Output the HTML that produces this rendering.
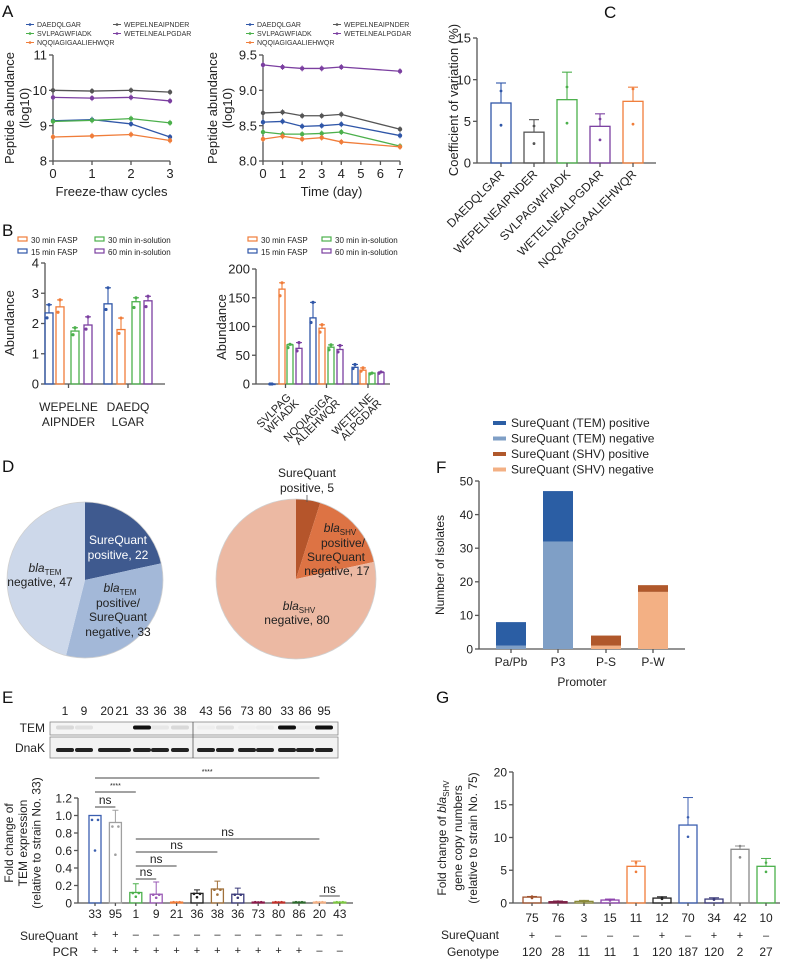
<!DOCTYPE html>
<html><head><meta charset="utf-8"><style>
html,body{margin:0;padding:0;background:#fff;}
svg{display:block;font-family:"Liberation Sans",Arial,sans-serif;}
</style></head><body>
<svg id="fig" width="787" height="962" viewBox="0 0 787 962" xmlns="http://www.w3.org/2000/svg">
<g font-size="17" fill="#111">
<text x="2" y="17">A</text>
<text x="2" y="236">B</text>
<text x="604" y="18">C</text>
<text x="2" y="472">D</text>
<text x="436" y="473">F</text>
<text x="2" y="703">E</text>
<text x="436" y="703">G</text>
</g>
</svg>
<script>
// ===== DATA =====
const aPeptides = ["DAEDQLGAR","SVLPAGWFIADK","NQQIAGIGAALIEHWQR","WEPELNEAIPNDER","WETELNEALPGDAR"];
const aColors = ["#2f56a8","#4cb04c","#f07d3a","#555555","#7b3fa0"];
const aLeftX = [0,1,2,3];
const aLeftDAEDQLGAR = [9.14,9.17,9.05,8.68];
const aLeftSVLPAG = [9.12,9.15,9.20,9.08];
const aLeftNQQIAG = [8.68,8.71,8.75,8.58];
const aLeftWEPELNE = [10.0,9.98,10.0,9.95];
const aLeftWETELNE = [9.80,9.78,9.80,9.70];
const aRightX = [0,1,2,3,4,7];
const aRightDAEDQLGAR = [8.55,8.56,8.49,8.50,8.52,8.36];
const aRightSVLPAG = [8.41,8.38,8.38,8.39,8.41,8.21];
const aRightNQQIAG = [8.31,8.35,8.31,8.33,8.27,8.20];
const aRightWEPELNE = [8.68,8.69,8.64,8.64,8.66,8.45];
const aRightWETELNE = [9.36,9.33,9.31,9.31,9.33,9.27];

const bMethods = ["30 min FASP","15 min FASP","30 min in-solution","60 min in-solution"];
const bColors = ["#2f56a8","#f07d3a","#4cb04c","#7b3fa0"];
const bLeftCats = [["WEPELNE","AIPNDER"],["DAEDQ","LGAR"]];
const bLeftVals = [[2.35,2.55,1.75,1.95],[2.65,1.80,2.72,2.75]];
const bLeftErr = [[2.62,2.78,1.86,2.22],[3.18,2.18,2.85,2.90]];
const bRightCats = [["SVLPAG","WFIADK"],["NQQIAGIGA","ALIEHWQR"],["WETELNE","ALPGDAR"]];
const bRightVals = [[0,165,68,62],[115,97,64,60],[29,24,19,20]];
const bRightErr = [[0,176,69,72],[142,103,68,67],[34,28,19,21]];

const cCats = ["DAEDQLGAR","WEPELNEAIPNDER","SVLPAGWFIADK","WETELNEALPGDAR","NQQIAGIGAALIEHWQR"];
const cVals = [7.2,3.7,7.6,4.4,7.4];
const cErr = [9.6,5.2,10.9,5.9,9.1];
const cColors = ["#2f56a8","#555555","#4cb04c","#7b3fa0","#f07d3a"];

const dTemVals = [22,33,47];
const dTemColors = ["#3f5a8f","#a3b8d8","#cdd8ea"];
const dShvVals = [5,17,80];
const dShvColors = ["#b5552b","#dd7344","#ecb9a3"];

const fCats = ["Pa/Pb","P3","P-S","P-W"];
const fNeg = [1,32,1,17];
const fPos = [7,15,3,2];
const fNegColors = ["#7f9fc6","#7f9fc6","#f3b084","#f3b084"];
const fPosColors = ["#2b5ea4","#2b5ea4","#b0582b","#b0582b"];
const fLegend = ["SureQuant (TEM) positive","SureQuant (TEM) negative","SureQuant (SHV) positive","SureQuant (SHV) negative"];
const fLegendColors = ["#2b5ea4","#7f9fc6","#b0582b","#f3b084"];

const eLanes = ["1","9","20","21","33","36","38","43","56","73","80","33","86","95"];
const eTemBand = [0.12,0.08,0,0,1,0.06,0.12,0.03,0.08,0.02,0.04,1,0.03,1];
const eCats = ["33","95","1","9","21","36","38","36","73","80","86","20","43"];
const eVals = [1.0,0.92,0.12,0.10,0.01,0.11,0.16,0.10,0.01,0.01,0.01,0.01,0.01];
const eErr = [1.0,1.06,0.22,0.24,0.01,0.15,0.25,0.17,0.01,0.01,0.01,0.01,0.01];
const eSure = ["+","+","–","–","–","–","–","–","–","–","–","–","–"];
const ePcr = ["+","+","+","+","+","+","+","+","+","+","+","–","–"];
const eColors = ["#3b5fb0","#a0a0a0","#4cb04c","#9a5ab5","#f07d3a","#222222","#a0703a","#3b3b7a","#8b1a4a","#c0302a","#2d6a2d","#f3b084","#7dc742"];

const gCats = ["75","76","3","15","11","12","70","34","42","10"];
const gVals = [0.9,0.2,0.25,0.45,5.6,0.75,11.9,0.6,8.2,5.6];
const gErr = [1.0,0.3,0.4,0.6,6.4,0.95,16.1,0.8,8.7,6.8];
const gSure = ["+","–","–","–","–","+","–","+","+","–"];
const gGeno = ["120","28","11","11","1","120","187","120","2","27"];
const gColors = ["#a0522d","#7b2046","#8a8a3a","#8e44ad","#f07d3a","#222222","#3c5fb0","#3b3b7a","#888888","#4cb04c"];

// ===== HELPERS =====
const NS="http://www.w3.org/2000/svg";
const svg=document.getElementById('fig');
function mk(tag,attrs,parent,txt){const e=document.createElementNS(NS,tag);for(const k in attrs)e.setAttribute(k,attrs[k]);if(txt!==undefined)e.textContent=txt;(parent||svg).appendChild(e);return e;}
function grp(name){const g=mk('g',{});


return g;}
function lin(d0,d1,r0,r1){return v=>r0+(v-d0)*(r1-r0)/(d1-d0);}
function line(p,x1,y1,x2,y2,c,w){return mk('line',{x1,y1,x2,y2,stroke:c||'#555',"stroke-width":w||1.3},p);}
function txt(p,x,y,s,opt){opt=opt||{};const t=mk('text',{x,y,"font-size":opt.fs||12,"text-anchor":opt.a||'middle',fill:opt.fill||'#222'},p,s);if(opt.rot!==undefined)t.setAttribute('transform',`rotate(${opt.rot} ${x} ${y})`);return t;}
function yaxis(p,x,y0,y1,ticks,sy,fs,labels){line(p,x,y0,x,y1);ticks.forEach((t,i)=>{const y=sy(t);line(p,x-4,y,x,y);txt(p,x-6,y+fs*0.36,labels?labels[i]:String(t),{fs,a:'end'});});}

// ===== PANEL A =====
function lineChart(name,xs,series,ox,x0v,x1v,x1px,yTicks,yMin,yMax,yTop,yBot,xTicks,xTitle){
  const g=grp(name);
  const sx=lin(x0v,x1v,ox,x1px), sy=lin(yMin,yMax,yBot,yTop);
  yaxis(g,ox,yTop,yBot,yTicks,sy,13,yTicks.map(t=>t%1===0&&yMax<10?t.toFixed(1):String(t)));
  line(g,ox,yBot,x1px,yBot);
  xTicks.forEach(t=>{line(g,sx(t),yBot,sx(t),yBot+4);txt(g,sx(t),yBot+17,String(t),{fs:13});});
  txt(g,(ox+x1px)/2,yBot+35,xTitle,{fs:13});
  series.forEach((s,si)=>{
    const sg=grp('series-'+aPeptides[si].toLowerCase());g.appendChild(sg);
    const pts=xs.map((x,i)=>sx(x)+','+sy(s[i])).join(' ');
    const pl=mk('polyline',{points:pts,fill:'none',stroke:aColors[si],"stroke-width":1.3},sg);
    
    
    xs.forEach((x,i)=>{
      line(sg,sx(x),sy(s[i])-3,sx(x),sy(s[i])+3,aColors[si],0.8);
      const c=mk('circle',{cx:sx(x),cy:sy(s[i]),r:2.2,fill:aColors[si]},sg);
      
      
    });
  });
  return g;
}
const aL=lineChart('panel-a-freeze-thaw-chart',aLeftX,[aLeftDAEDQLGAR,aLeftSVLPAG,aLeftNQQIAG,aLeftWEPELNE,aLeftWETELNE],53,0,3,170,[8,9,10,11],8,11,55,161,[0,1,2,3],'Freeze-thaw cycles');
aL.querySelectorAll('text').forEach(t=>{if(t.getAttribute('text-anchor')==='end')t.textContent=String(parseInt(t.textContent));});
lineChart('panel-a-time-chart',aRightX,[aRightDAEDQLGAR,aRightSVLPAG,aRightNQQIAG,aRightWEPELNE,aRightWETELNE],263,0,7,400,[8.0,8.5,9.0,9.5],8.0,9.5,55,161,[0,1,2,3,4,5,6,7],'Time (day)');
function yTitle(name,x,y,lines,fs){const g=grp(name);lines.forEach((l,i)=>{txt(g,x+i*fs*1.15,y,l,{fs,rot:-90});});return g;}
yTitle('panel-a-left-y-title',14,108,['Peptide abundance','(log10)'],13);
yTitle('panel-a-right-y-title',217,108,['Peptide abundance','(log10)'],13);
function aLegend(name,x1,x2){const g=grp(name);const pos=[[x1,27],[x1,36],[x1,45],[x2,27],[x2,36]];
  aPeptides.forEach((p,i)=>{const [x,y]=pos[i];line(g,x-4,y-2.5,x+4,y-2.5,aColors[i],1);mk('circle',{cx:x,cy:y-2.5,r:1.3,fill:aColors[i]},g);txt(g,x+7,y,p,{fs:7,a:'start',fill:'#333'});});}
aLegend('panel-a-left-legend',30,117);
aLegend('panel-a-right-legend',250,337);

// ===== PANEL B =====
function bLegend(name,sx1,sx2){const g=grp(name);const order=[[sx1,243,1],[sx1,255,0],[sx2,243,2],[sx2,255,3]];
  const labels=["30 min FASP","15 min FASP","30 min in-solution","60 min in-solution"];
  order.forEach(([x,y,ci],i)=>{mk('rect',{x,y:y-6,width:9,height:4,fill:'none',stroke:bColors[ci],"stroke-width":1.2},g);txt(g,x+13,y,labels[i],{fs:8,a:'start'});});}
bLegend('panel-b-left-legend',18,95);
bLegend('panel-b-right-legend',248,322);
function groupedBars(name,cats,vals,errs,ox,x1px,ymax,yTicks,yBot,yTop,centers,bw,rot){
  const g=grp(name);const sy=lin(0,ymax,yBot,yTop);
  yaxis(g,ox,yTop,yBot,yTicks,sy,13);line(g,ox,yBot,x1px,yBot);
  vals.forEach((gv,gi)=>{
    gv.forEach((v,bi)=>{const cx=centers[gi][bi];const c=bColors[bi];
      const r=mk('rect',{x:cx-bw/2,y:sy(v),width:bw,height:Math.max(0.5,yBot-sy(v)),fill:'none',stroke:c,"stroke-width":1.3},g);
      
      
      line(g,cx,sy(v),cx,sy(errs[gi][bi]),c,1.1);line(g,cx-3,sy(errs[gi][bi]),cx+3,sy(errs[gi][bi]),c,1.1);
      mk('circle',{cx:cx,cy:sy(errs[gi][bi]),r:1.6,fill:c},g);
      mk('circle',{cx:cx-2,cy:sy(v*0.93),r:1.6,fill:c},g);
    });
    const mid=(centers[gi][0]+centers[gi][3])/2;line(g,mid,yBot,mid,yBot+4);
    if(rot){txt(g,mid+6,yBot+14,cats[gi][0],{fs:11,a:'end',rot:-45});txt(g,mid+14,yBot+20,cats[gi][1],{fs:11,a:'end',rot:-45});}
    else{txt(g,mid,yBot+27,cats[gi][0],{fs:12});txt(g,mid,yBot+42,cats[gi][1],{fs:12});}
  });
}
groupedBars('panel-b-left-chart',bLeftCats,bLeftVals,bLeftErr,45,165,4,[0,1,2,3,4],384,263,[[49,60,75,88],[108,121,136,148]],8,false);
groupedBars('panel-b-right-chart',bRightCats,bRightVals,bRightErr,256,390,200,[0,50,100,150,200],384,269,[[272,282,290,299],[313,322,331,340],[355,363,372,381]],6,true);
yTitle('panel-b-left-y-title',14,323,['Abundance'],13);
yTitle('panel-b-right-y-title',226,327,['Abundance'],13);

// ===== PANEL C =====
(function(){const g=grp('panel-c-chart');const yBot=163,sy=lin(0,15,yBot,38);
  yaxis(g,477,38,yBot,[0,5,10,15],sy,13);line(g,477,yBot,656,yBot);
  const cx0=501,dx=33;
  cVals.forEach((v,i)=>{const cx=cx0+i*dx;const c=cColors[i];
    const r=mk('rect',{x:cx-10,y:sy(v),width:20,height:yBot-sy(v),fill:'none',stroke:c,"stroke-width":1.3},g);
    
    
    line(g,cx,sy(v),cx,sy(cErr[i]),c,1.1);line(g,cx-5,sy(cErr[i]),cx+5,sy(cErr[i]),c,1.1);
    mk('circle',{cx,cy:sy(v*0.63),r:1.4,fill:c},g);mk('circle',{cx,cy:sy(v*1.2),r:1.4,fill:c},g);
    line(g,cx,yBot,cx,yBot+4);
    txt(g,cx+4,yBot+12,cCats[i],{fs:12,a:'end',rot:-45});
  });
  yTitle('panel-c-y-title',458,100,['Coefficient of variation (%)'],13);
})();

// ===== PANEL D =====
function pie(name,cx,cy,r,vals,cols){const g=grp(name);const tot=vals.reduce((a,b)=>a+b,0);let a=0;
  vals.forEach((v,i)=>{const a0=a,a1=a+v/tot*2*Math.PI;a=a1;
    const x0=cx+r*Math.sin(a0),y0=cy-r*Math.cos(a0),x1=cx+r*Math.sin(a1),y1=cy-r*Math.cos(a1);
    const p=mk('path',{d:`M${cx},${cy} L${x0},${y0} A${r},${r} 0 ${a1-a0>Math.PI?1:0} 1 ${x1},${y1} Z`,fill:cols[i]},g);
    
    });
  mk('circle',{cx,cy,r,fill:'none',stroke:'#d0d0d0',"stroke-width":0.8},g);return g;}
const dT=pie('panel-d-tem-pie',85,580,78,dTemVals,dTemColors);
txt(dT,118,544,'SureQuant',{fs:12,fill:'#fff'});txt(dT,118,559,'positive, '+dTemVals[0],{fs:12,fill:'#fff'});
const t1=txt(dT,120,592,'',{fs:12});t1.innerHTML='<tspan font-style="italic">bla</tspan><tspan font-size="8" dy="3">TEM</tspan>';
txt(dT,118,607,'positive/',{fs:12});txt(dT,118,621,'SureQuant',{fs:12});txt(dT,118,636,'negative, '+dTemVals[1],{fs:12});
const t2=txt(dT,45,572,'',{fs:12});t2.innerHTML='<tspan font-style="italic">bla</tspan><tspan font-size="8" dy="3">TEM</tspan>';
txt(dT,40,586,'negative, '+dTemVals[2],{fs:12});
const dS=pie('panel-d-shv-pie',296,579,80,dShvVals,dShvColors);
txt(dS,307,477,'SureQuant',{fs:12});txt(dS,307,492,'positive, '+dShvVals[0],{fs:12});line(dS,307,495,307,502,'#555',0.8);
const t3=txt(dS,340,532,'',{fs:12});t3.innerHTML='<tspan font-style="italic">bla</tspan><tspan font-size="8" dy="3">SHV</tspan>';
txt(dS,343,547,'positive/',{fs:12});txt(dS,336,561,'SureQuant',{fs:12});txt(dS,337,575,'negative, '+dShvVals[1],{fs:12});
const t4=txt(dS,299,610,'',{fs:12});t4.innerHTML='<tspan font-style="italic">bla</tspan><tspan font-size="8" dy="3">SHV</tspan>';
txt(dS,297,624,'negative, '+dShvVals[2],{fs:12});

// ===== PANEL F =====
(function(){const g=grp('panel-f-chart');const yBot=649,yTop=481,sy=lin(0,50,yBot,yTop);
  yaxis(g,479,yTop,yBot,[0,10,20,30,40,50],sy,12);line(g,479,yBot,685,yBot);
  const centers=[511,558,606,653];
  fCats.forEach((c,i)=>{const cx=centers[i];
    const r1=mk('rect',{x:cx-15,y:sy(fNeg[i]),width:30,height:yBot-sy(fNeg[i]),fill:fNegColors[i]},g);
    
    
    const r2=mk('rect',{x:cx-15,y:sy(fNeg[i]+fPos[i]),width:30,height:sy(fNeg[i])-sy(fNeg[i]+fPos[i]),fill:fPosColors[i]},g);
    
    
    line(g,cx,yBot,cx,yBot+4);txt(g,cx,yBot+17,c,{fs:12});});
  txt(g,582,686,'Promoter',{fs:12});
  yTitle('panel-f-y-title',444,565,['Number of isolates'],12);
  const lg=grp('panel-f-legend');
  fLegend.forEach((l,i)=>{const y=427+i*15.5;mk('rect',{x:493,y:y-6,width:13,height:4,fill:fLegendColors[i]},lg);txt(lg,511,y,l,{fs:12,a:'start'});});
})();

// ===== PANEL E =====
(function(){const g=grp('panel-e-blot');
  const lx=[65,84,107,122,142,160,180,206,225,247,265,287,305,324];
  eLanes.forEach((l,i)=>txt(g,lx[i],715,l,{fs:12}));
  mk('rect',{x:50,y:722,width:288,height:13,fill:'#f5f5f5',stroke:'#888',"stroke-width":0.8},g);
  mk('rect',{x:50,y:737,width:288,height:21,fill:'#f2f2f2',stroke:'#888',"stroke-width":0.8},g);
  line(g,193,722,193,758,'#555',0.8);
  txt(g,45,732,'TEM',{fs:12,a:'end'});txt(g,45,752,'DnaK',{fs:12,a:'end'});
  lx.forEach((x,i)=>{if(eTemBand[i]>0)mk('rect',{x:x-9,y:725.5,width:18,height:4,rx:2,fill:'#111',opacity:eTemBand[i]},g);
    mk('rect',{x:x-9,y:748,width:18,height:4,rx:2,fill:'#222'},g);});
})();
(function(){const g=grp('panel-e-chart');const yBot=903,sy=lin(0,1.2,yBot,798);
  yaxis(g,78,798,yBot,[0,0.2,0.4,0.6,0.8,1.0,1.2],sy,12,["0","0.2","0.4","0.6","0.8","1.0","1.2"]);line(g,78,yBot,353,yBot);
  const cx0=95,dx=20.4;
  eVals.forEach((v,i)=>{const cx=cx0+i*dx,c=eColors[i];
    const r=mk('rect',{x:cx-6,y:sy(v),width:12,height:Math.max(0.6,yBot-sy(v)),fill:'none',stroke:c,"stroke-width":1.3},g);
    
    
    if(eErr[i]>v+0.005){line(g,cx,sy(v),cx,sy(eErr[i]),c,1);line(g,cx-3,sy(eErr[i]),cx+3,sy(eErr[i]),c,1);}
    mk('circle',{cx:cx-3,cy:sy(v*0.95),r:1.3,fill:c},g);mk('circle',{cx:cx+3,cy:sy(v*0.95),r:1.3,fill:c},g);mk('circle',{cx,cy:sy(Math.max(v*0.6,0.005)),r:1.3,fill:c},g);
    line(g,cx,yBot,cx,yBot+3);
    txt(g,cx,918,eCats[i],{fs:12});txt(g,cx,938,eSure[i],{fs:11});txt(g,cx,954,ePcr[i],{fs:11});});
  txt(g,78,940,'SureQuant',{fs:12,a:'end'});txt(g,78,956,'PCR',{fs:12,a:'end'});
  const X=i=>cx0+i*dx;
  const sig=[[0,11,778,'****'],[0,2,792,'****'],[0,1,807,'ns'],[2,11,839,'ns'],[2,6,852,'ns'],[2,4,866,'ns'],[2,3,879,'ns'],[11,12,896,'ns']];
  sig.forEach(([a,b,y,l])=>{line(g,X(a),y,X(b),y,'#444',1);txt(g,(X(a)+X(b))/2,l==='ns'?y-3:y-4,l,{fs:l==='ns'?12:7});});
  yTitle('panel-e-y-title',13,843,['Fold change of','TEM expression','(relative to strain No. 33)'],12);
})();

// ===== PANEL G =====
(function(){const g=grp('panel-g-chart');const yBot=903,sy=lin(0,20,yBot,772);
  yaxis(g,513,772,yBot,[0,5,10,15,20],sy,12);line(g,513,yBot,780,yBot);
  const cx0=532,dx=26;
  gVals.forEach((v,i)=>{const cx=cx0+i*dx,c=gColors[i];
    const r=mk('rect',{x:cx-9,y:sy(v),width:18,height:yBot-sy(v),fill:'none',stroke:c,"stroke-width":1.3},g);
    
    
    line(g,cx,sy(v),cx,sy(gErr[i]),c,1);line(g,cx-5,sy(gErr[i]),cx+5,sy(gErr[i]),c,1);
    mk('circle',{cx,cy:sy(v*0.85),r:1.3,fill:c},g);mk('circle',{cx,cy:sy(Math.min(gErr[i],v*1.1)),r:1.3,fill:c},g);
    line(g,cx,yBot,cx,yBot+3);
    txt(g,cx,922,gCats[i],{fs:12});txt(g,cx,939,gSure[i],{fs:11});txt(g,cx,956,gGeno[i],{fs:12});});
  txt(g,499,939,'SureQuant',{fs:12,a:'end'});txt(g,499,956,'Genotype',{fs:12,a:'end'});
  const yt=grp('panel-g-y-title');
  const l1=txt(yt,446,838,'',{fs:12,rot:-90});l1.innerHTML='Fold change of <tspan font-style="italic">bla</tspan><tspan font-size="8" dy="3">SHV</tspan>';
  txt(yt,462,838,'gene copy numbers',{fs:12,rot:-90});
  txt(yt,477,838,'(relative to strain No. 75)',{fs:12,rot:-90});
})();
</script>
</body></html>
